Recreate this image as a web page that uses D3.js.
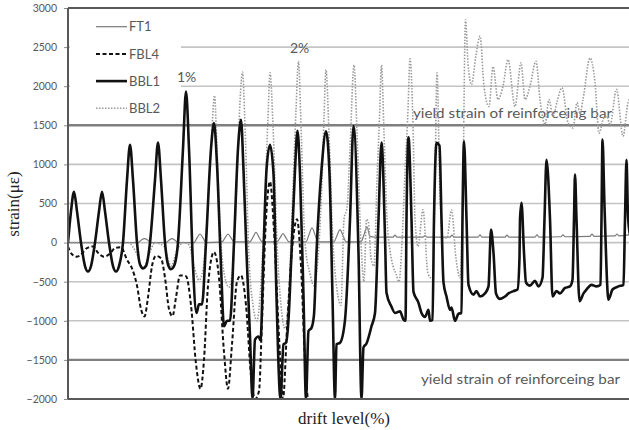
<!DOCTYPE html>
<html lang="en">

<head>
    <meta charset="UTF-8">
    <title>strain vs drift level</title>
    <script src="https://cdn.jsdelivr.net/npm/d3@7"></script>
    <style>
        body { margin: 0; background: #fff; }
        #chart { width: 629px; height: 430px; }
    </style>
</head>

<body>
    <div id="chart"></div>
</body>

<script>
    // y ticks
    const yTicks = [-2000, -1500, -1000, -500, 0, 500, 1000, 1500, 2000, 2500, 3000];
    const yieldLevels = [1500, -1500];

    // [step, strain]
    const FT1 = [[0,0],[70,0],[73,30],[76.5,50],[80,30],[83,0],[98,0],[101,30],[104,50],[107,30],[110,0],
        [126,0],[129,60],[132,110],[135,60],[138,0],[154,10],[157,60],[160,110],[163,60],[166,10],
        [182,10],[185,70],[188,130],[191,70],[194,10],[209,10],[212,60],[215,115],[218,60],[221,10],
        [238,10],[241,100],[244,190],[247,100],[250,10],[266,10],[269,90],[272,165],[275,90],[278,10],
        [293,10],[296,100],[299,200],[302,80],[307,70],[325,70],[327,95],[329,70],[355,70],[357,90],[359,70],
        [382,70],[384,95],[386,70],[410,70],[412,100],[414,70],[437,70],[439,95],[441,70],[467,70],[469,100],[471,70],
        [493,75],[495,100],[497,75],[522,80],[524,110],[526,80],[547,85],[549,110],[551,85],[562,100]];

    const FBL4 = [[0,-50],[4,-150],[9,-180],[14,-140],[19,-70],[25,-50],[30,-130],[36,-180],[42,-140],[47,-70],
        [53,-60],[59,-220],[64,-330],[69,-550],[73,-850],[76.5,-945],[80,-700],[84,-300],[88,-170],[93,-200],
        [97,-450],[101,-850],[104.5,-940],[108,-700],[112,-420],[118,-430],[123,-800],[128,-1550],[132.5,-1870],
        [136,-1500],[140,-550],[146,-120],[151,-450],[156,-1400],[160,-1870],[164,-1300],[169,-500],[173,-420],
        [178,-800],[183,-1700],[187,-2000],[191,-1900],[194,-1000],[198,300],[202,780],[206,150],[211,-1200],
        [215,-2000],[219,-1100],[224,-100],[229,300],[233,-300],[237,-1500],[240,-2000],[243,-2100]];

    const BBL1 = [[0,0],[3,400],[6,650],[9,400],[13,0],[17,-300],[20,-370],[23,-300],[27,0],[31,400],[34,650],
        [37,400],[41,0],[45,-300],[48,-370],[51,-300],[55,0],[59,800],[62,1250],[65,800],[69,0],[72,-280],
        [75,-330],[78,-300],[82,0],[87,800],[90,1280],[93,800],[97,0],[100,-280],[103,-340],[106,-300],[110,0],
        [115,1200],[118,1930],[121,1200],[125,-300],[128.5,-900],[131,-790],[134,-790],[138,0],[143,1200],
        [146,1530],[149,1000],[153,-300],[156,-1070],[159,-1000],[162,-1000],[166,0],[170,1200],[173,1570],
        [175.5,930],[178.5,-130],[182,-1200],[184.5,-2000],[187,-1240],[190.5,-1200],[192.5,-1250],[195.5,-130],
        [198.5,930],[202,1250],[205.5,880],[208.5,-690],[212.5,-2000],[215.5,-1300],[218,-1280],[220.5,-985],
        [223.5,-130],[227,930],[229.5,1430],[232,880],[235.5,-690],[238,-2000],[240.5,-1130],[243.5,-1090],
        [246,-920],[248.5,-130],[253.5,930],[258,1424],[261.5,880],[264.5,-690],[267,-2000],[268.5,-1300],
        [272,-1280],[277,-990],[282,290],[285.5,1490],[290.5,-130],[293.5,-2000],[295.5,-1340],[298.5,-1290],
        [303.5,-1070],[307,-900],[310.5,300],[313.5,1280],[317,80],[318.5,-640],[323.5,-820],[327,-900],
        [332,-880],[335.5,-985],[337.5,-1000],[338.5,300],[340.5,1345],[343.5,300],[345.5,-630],[350.5,-770],
        [353.5,-900],[357,-950],[360.5,-860],[362,-1000],[364.5,-990],[366,300],[368.5,1275],[371.5,1240],
        [373.5,300],[375.5,-510],[378.5,-690],[382,-860],[383.5,-830],[387,-1000],[390.5,-910],[393.5,-900],
        [394.5,300],[396,1296],[398.5,300],[400.5,-540],[405.5,-665],[408.5,-620],[412,-690],[417,-650],
        [420.5,-560],[423,166],[425.5,-130],[428,-650],[432,-720],[437,-690],[440.5,-650],[445.5,-620],
        [449.5,-600],[451.5,-190],[452,300],[453.5,510],[456,-130],[458,-510],[462,-550],[467,-490],[470.5,-560],
        [474.5,-450],[476.5,300],[478.5,1060],[482,300],[484.5,-690],[488.5,-620],[492,-650],[497,-580],
        [502,-560],[504.5,-475],[506,300],[507,870],[508.5,300],[511.5,-750],[515.5,-650],[518.5,-600],
        [523.5,-540],[528.5,-560],[532.5,-540],[533.5,300],[534.5,1317],[536.5,465],[540.5,-730],[544.5,-600],
        [550.5,-560],[555.5,-540],[557,300],[558.5,1060],[560,340],[562,100]];

    const BBL2 = [[0,0],[60,0],[69,-150],[75,-330],[81,-150],[87,0],[96,-50],[103,-300],[109,-100],[115,0],
        [121,-30],[126,-300],[131,-480],[135,-350],[139,300],[143,1200],[146.5,1880],[149,1200],[153,0],
        [157,-450],[161,-570],[165,-300],[169,800],[172,1800],[174.5,2180],[177,1500],[181,-200],[185,-800],
        [189,-1000],[193,-500],[197,600],[200,1600],[202,2170],[205,1500],[209,0],[213,-800],[217,-1100],
        [221,-600],[225,700],[228,1700],[230.5,2320],[233,1500],[237,0],[242,-400],[246,-550],[250,-200],
        [254,800],[256,1600],[258,2210],[261,1400],[265,0],[269,-600],[273,-800],[276,300],[279,450],[282,1200],
        [286,2270],[289,1400],[293,0],[296,-500],[298.5,300],[300.5,250],[303,-200],[306,-300],[309,800],
        [311.5,1600],[313.5,2270],[316,1400],[319,300],[322,-100],[325,-300],[328,-400],[331,-500],[334,0],
        [337,900],[340,1700],[342,2350],[345,1500],[347,300],[350,-50],[355,420],[360,-400],[365,-470],
        [367,800],[369,2170],[372,600],[375,60],[379,60],[383.5,420],[388,-200],[392,-450],[395,800],
        [397.5,2850],[400,2300],[403.5,2020],[408,2400],[412,2640],[416,2000],[421,1740],[425,2250],[430,1830],
        [435,2000],[440,2340],[447,1740],[453,2300],[457,1830],[462,2000],[468,2320],[472,1830],[477,1510],
        [481,1830],[485,1615],[489,1800],[494,1980],[500,1535],[505,1465],[509,1790],[512,1650],[515,1830],
        [522,2360],[527,2050],[531,1400],[536,1600],[539,1615],[542,1500],[548.5,1960],[555,1360],[560,1790],
        [562,1850]];

    const seriesNames = ["FT1", "FBL4", "BBL1", "BBL2"];
    const seriesData = [FT1, FBL4, BBL1, BBL2];
    const seriesStyle = {
        FT1: { stroke: "#7a7a7a", width: 1.2, dash: null },
        FBL4: { stroke: "#111", width: 2, dash: "4,2.5" },
        BBL1: { stroke: "#111", width: 2.6, dash: null },
        BBL2: { stroke: "#9a9a9a", width: 1.6, dash: "1.5,1.5" }
    };

    let draw = () => {
        let svg = d3.select("#chart").append("svg")
            .attr("width", 629)
            .attr("height", 430)
            .style("font-family", "Lato, 'Open Sans', sans-serif");

        let padding = { top: 8, left: 68, bottom: 31, right: -1 };
        let width = 629 - padding.left - padding.right;
        let height = 430 - padding.top - padding.bottom;

        let focus = svg.append("g")
            .attr("transform", "translate(" + padding.left + "," + padding.top + ")");

        focus.append("defs").append("clipPath")
            .attr("id", "clip")
            .append("rect")
            .attr("width", width)
            .attr("height", height);

        let x = d3.scaleLinear().domain([0, 562]).range([0, width]);
        let y = d3.scaleLinear().domain([-2000, 3000]).range([height, 0]);

        // gridlines
        focus.append("g").selectAll("line")
            .data(yTicks.filter(d => d > -2000 && d < 3000))
            .join("line")
            .attr("x1", 0).attr("x2", width)
            .attr("y1", d => y(d)).attr("y2", d => y(d))
            .attr("stroke", d => yieldLevels.includes(d) ? "#7f7f7f" : "#c4c4c4")
            .attr("stroke-width", d => yieldLevels.includes(d) ? 2.4 : 1.6);

        // y axis
        let yAxis = d3.axisLeft(y).tickValues(yTicks).tickFormat(d3.format("d")).tickSize(4).tickSizeOuter(0);
        let ya = focus.append("g").call(yAxis);
        ya.select(".domain").remove();
        ya.selectAll(".tick line").attr("stroke", "#8c8c8c");
        ya.selectAll(".tick text")
            .attr("x", -11)
            .attr("fill", "#595959")
            .style("font-size", "10.5px")
            .style("font-family", "Lato, sans-serif");

        // legend box hides the upper gridlines
        focus.append("rect")
            .attr("x", 2).attr("y", 4)
            .attr("width", 111).attr("height", 106)
            .attr("fill", "#fff");

        // annotations
        let note = focus.append("g").attr("fill", "#595959").style("font-size", "14px");
        note.append("text").attr("x", 109).attr("y", 74).text("1%");
        note.append("text").attr("x", 222).attr("y", 45).text("2%");
        note.append("text").attr("x", 345).attr("y", y(1500) - 7)
            .attr("textLength", 199).attr("lengthAdjust", "spacingAndGlyphs")
            .text("yield strain of reinforceing bar");
        note.append("text").attr("x", 353).attr("y", y(-1750) + 5)
            .attr("textLength", 199).attr("lengthAdjust", "spacingAndGlyphs")
            .text("yield strain of reinforceing bar");

        // series
        let line = d3.line()
            .x(d => x(d[0]))
            .y(d => y(Math.max(d[1], -2080)))
            .curve(d3.curveMonotoneX);

        let order = ["FT1", "BBL2", "FBL4", "BBL1"];
        focus.append("g").attr("clip-path", "url(#clip)")
            .selectAll("path")
            .data(order)
            .join("path")
            .attr("d", n => line(seriesData[seriesNames.indexOf(n)]))
            .attr("fill", "none")
            .attr("stroke", n => seriesStyle[n].stroke)
            .attr("stroke-width", n => seriesStyle[n].width)
            .attr("stroke-dasharray", n => seriesStyle[n].dash)
            .attr("stroke-linejoin", "round");

        // frame: left, top, bottom
        let frame = focus.append("g").attr("stroke", "#595959").attr("stroke-width", 2);
        frame.append("line").attr("x1", 0).attr("x2", 0).attr("y1", 0).attr("y2", height);
        frame.append("line").attr("x1", 0).attr("x2", width).attr("y1", y(3000)).attr("y2", y(3000));
        frame.append("line").attr("x1", 0).attr("x2", width).attr("y1", y(-2000)).attr("y2", y(-2000));

        // legend
        let legend = focus.append("g").selectAll("g")
            .data(seriesNames)
            .join("g")
            .attr("transform", (d, i) => "translate(28," + (18.7 + i * 27.2) + ")");
        legend.append("line")
            .attr("x1", 0).attr("x2", 31)
            .attr("stroke", n => seriesStyle[n].stroke)
            .attr("stroke-width", n => seriesStyle[n].width)
            .attr("stroke-dasharray", n => seriesStyle[n].dash);
        legend.append("text")
            .attr("x", 33).attr("dy", "0.36em")
            .attr("fill", "#595959")
            .style("font-size", "13px")
            .text(n => n);

        // axis titles
        svg.append("text")
            .attr("transform", "translate(19,204) rotate(-90)")
            .attr("text-anchor", "middle")
            .style("font-family", "'Liberation Serif', serif")
            .style("font-size", "17px")
            .attr("fill", "#222")
            .text("strain(με)");
        svg.append("text")
            .attr("x", 344).attr("y", 424)
            .attr("text-anchor", "middle")
            .style("font-family", "'Liberation Serif', serif")
            .style("font-size", "17px")
            .attr("fill", "#222")
            .text("drift level(%)");
    }

    draw();
</script>

</html>
